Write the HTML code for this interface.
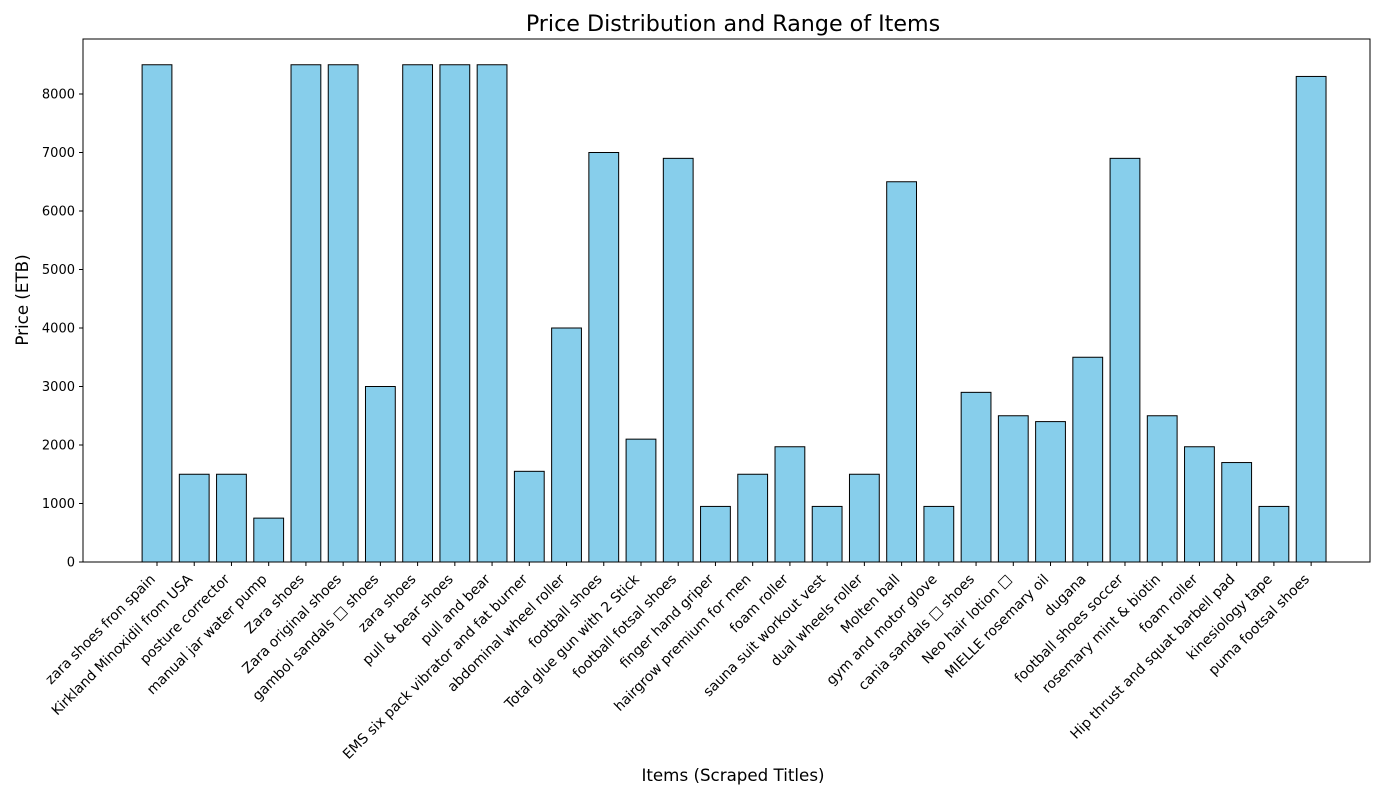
<!DOCTYPE html>
<html><head><meta charset="utf-8"><style>
body{margin:0;background:#fff;}
svg{display:block;font-family:"DejaVu Sans","Liberation Sans",sans-serif;}
</style></head><body>
<svg id="chart" width="1400" height="800" viewBox="0 0 1400 800">
<rect width="1400" height="800" fill="#fff"/>
<text x="733" y="31" text-anchor="middle" font-size="22.2">Price Distribution and Range of Items</text>
<text x="733" y="781" text-anchor="middle" font-size="16.7">Items (Scraped Titles)</text>
<text transform="translate(28,300) rotate(-90)" text-anchor="middle" font-size="16.7">Price (ETB)</text>
<g id="bars"></g><g id="yticks"></g><g id="xticks"></g>
<rect x="83" y="39" width="1287" height="523" fill="none" stroke="#000" stroke-width="1"/>
</svg>
<script>
const categories=["zara shoes fron spain","Kirkland Minoxidil from USA","posture corrector","manual jar water pump","Zara shoes","Zara original shoes","gambol sandals □ shoes","zara shoes","pull & bear shoes","pull and bear","EMS six pack vibrator and fat burner","abdominal wheel roller","football shoes","Total glue gun with 2 Stick","football fotsal shoes","finger hand griper","hairgrow premium for men","foam roller","sauna suit workout vest","dual wheels roller","Molten ball","gym and motor glove","cania sandals □ shoes","Neo hair lotion □","MIELLE rosemary oil","dugana","football shoes soccer","rosemary mint & biotin","foam roller","Hip thrust and squat barbell pad","kinesiology tape","puma footsal shoes"];
const prices=[8500,1500,1500,750,8500,8500,3000,8500,8500,8500,1550,4000,7000,2100,6900,950,1500,1970,950,1500,6500,950,2900,2500,2400,3500,6900,2500,1970,1700,950,8300];
const yTicks=[0,1000,2000,3000,4000,5000,6000,7000,8000];
const NS="http://www.w3.org/2000/svg";
const yScale=v=>562-v*0.0585;
const xScale=i=>157+i*37.23;
const bw=29.8;
const bars=document.getElementById('bars'),yt=document.getElementById('yticks'),xt=document.getElementById('xticks');
function mk(t,a){const e=document.createElementNS(NS,t);for(const k in a)e.setAttribute(k,a[k]);return e;}
prices.forEach((v,i)=>{
 const r=mk('rect',{x:xScale(i)-bw/2,y:yScale(v),width:bw,height:562-yScale(v),fill:'#87ceeb',stroke:'#000','stroke-width':1});
 
 
 bars.appendChild(r);
});
yTicks.forEach(v=>{
 const y=yScale(v);
 const l=mk('line',{x1:79,x2:83,y1:y,y2:y,stroke:'#000'});
 
 
 yt.appendChild(l);
 const t=mk('text',{x:75,y:y+4.5,'text-anchor':'end','font-size':13});
 
 
 t.textContent=v;yt.appendChild(t);
});
categories.forEach((c,i)=>{
 const x=xScale(i);
 const l=mk('line',{x1:x,x2:x,y1:562,y2:566,stroke:'#000'});
 
 
 xt.appendChild(l);
 const t=mk('text',{transform:`translate(${x-1},${580}) rotate(-45)`,'text-anchor':'end','font-size':13.9});
 
 
 t.textContent=c;xt.appendChild(t);
});
</script>
</body></html>
